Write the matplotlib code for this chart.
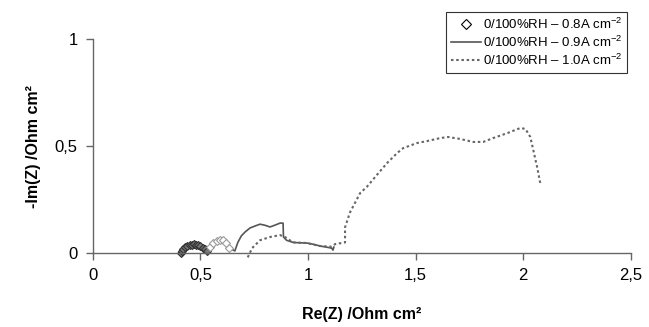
import matplotlib
matplotlib.use("Agg")
import matplotlib.pyplot as plt
from matplotlib.ticker import FuncFormatter

plt.rcParams['font.family'] = ['Liberation Sans', 'DejaVu Sans']
plt.rcParams['mathtext.fontset'] = 'custom'
plt.rcParams['mathtext.rm'] = 'Liberation Sans'
plt.rcParams['mathtext.it'] = 'Liberation Sans'

# 0.8 A cm-2 (diamonds)
re_08 = [0.41, 0.415, 0.42, 0.43, 0.44, 0.45, 0.46, 0.47, 0.48, 0.49, 0.50, 0.51, 0.52, 0.53,
         0.545, 0.56, 0.575, 0.59, 0.605, 0.62, 0.635]
im_08 = [0.002, 0.012, 0.020, 0.028, 0.034, 0.038, 0.040, 0.041, 0.040, 0.037, 0.032, 0.026, 0.018, 0.010,
         0.030, 0.045, 0.056, 0.062, 0.060, 0.045, 0.025]

# 0.9 A cm-2 (solid)
re_09 = [0.637, 0.66, 0.674, 0.69, 0.707, 0.73, 0.755, 0.777, 0.80, 0.823, 0.845, 0.87, 0.884,
         0.886, 0.90, 0.93, 0.96, 0.995, 1.03, 1.056, 1.085, 1.11, 1.116, 1.12]
im_09 = [0.023, 0.010, 0.050, 0.080, 0.098, 0.117, 0.127, 0.135, 0.130, 0.122, 0.130, 0.140, 0.140,
         0.075, 0.060, 0.050, 0.048, 0.047, 0.040, 0.033, 0.028, 0.023, 0.014, 0.028]

# 1.0 A cm-2 (dotted)
re_10 = [0.72, 0.74, 0.777, 0.823, 0.87, 0.893, 0.93, 0.995, 1.056, 1.11, 1.126, 1.15, 1.172, 1.172,
         1.195, 1.242, 1.274, 1.32, 1.367, 1.414, 1.442, 1.507, 1.553, 1.614, 1.651, 1.707, 1.767,
         1.814, 1.86, 1.926, 1.986, 2.01, 2.033, 2.047, 2.065, 2.079]
im_10 = [-0.02, 0.023, 0.060, 0.075, 0.084, 0.075, 0.050, 0.047, 0.033, 0.030, 0.042, 0.046, 0.050, 0.12,
         0.19, 0.28, 0.31, 0.365, 0.42, 0.467, 0.49, 0.514, 0.523, 0.537, 0.542, 0.533, 0.519,
         0.519, 0.537, 0.56, 0.584, 0.58, 0.542, 0.48, 0.40, 0.327]

labels = [r'0/100%RH – 0.8A cm$^{\mathregular{-2}}$',
          r'0/100%RH – 0.9A cm$^{\mathregular{-2}}$',
          r'0/100%RH – 1.0A cm$^{\mathregular{-2}}$']

fig = plt.figure(figsize=(6.49, 3.27), dpi=100)
ax = fig.add_axes([0.143, 0.226, 0.829, 0.655])

ax.plot(re_09, im_09, '-', color='#555555', lw=1.2, label=labels[1], clip_on=False)
ax.plot(re_10, im_10, color='#666666', lw=1.5, linestyle=(0, (1.2, 1.3)), label=labels[2], clip_on=False)
ax.plot(re_08[:14], im_08[:14], linestyle='none', marker='D', ms=4.5, mfc='#777777', mec='#333333',
        mew=0.8, clip_on=False)
ax.plot(re_08[14:], im_08[14:], linestyle='none', marker='D', ms=4.5, mfc='white', mec='#999999',
        mew=0.8, clip_on=False)
h08, = ax.plot([], [], linestyle='none', marker='D', ms=5, mfc='white', mec='black', mew=0.8,
               label=labels[0])

ax.set_xlim(0, 2.5)
ax.set_ylim(0, 1)
ax.set_xticks([0, 0.5, 1, 1.5, 2, 2.5])
ax.set_yticks([0, 0.5, 1])
fmt = FuncFormatter(lambda v, p: ('%g' % v).replace('.', ','))
ax.xaxis.set_major_formatter(fmt)
ax.yaxis.set_major_formatter(fmt)

for s in ['top', 'right']:
    ax.spines[s].set_visible(False)
for s in ['left', 'bottom']:
    ax.spines[s].set_color('#666666')
    ax.spines[s].set_linewidth(1.0)
ax.tick_params(axis='both', colors='#666666', labelcolor='black', labelsize=12, length=5, width=1.0)
ax.tick_params(axis='x', pad=6)
ax.tick_params(axis='y', pad=6)

ax.set_xlabel('Re(Z) /Ohm cm²', fontsize=11.5, fontweight='bold', labelpad=17)
ax.set_ylabel('-Im(Z) /Ohm cm²', fontsize=11.5, fontweight='bold', labelpad=10)

handles, labs = ax.get_legend_handles_labels()
order = [labs.index(l) for l in labels]
leg = fig.legend([handles[i] for i in order], [labs[i] for i in order],
                 loc='upper right', bbox_to_anchor=(627 / 649, 1 - 12 / 327), fontsize=9.5,
                 frameon=True, fancybox=False, edgecolor='black', handlelength=2.3,
                 handletextpad=0.1, borderpad=0.35, labelspacing=0.22, borderaxespad=0)
leg.get_frame().set_linewidth(0.8)

fig.savefig('out.png', dpi=100)
